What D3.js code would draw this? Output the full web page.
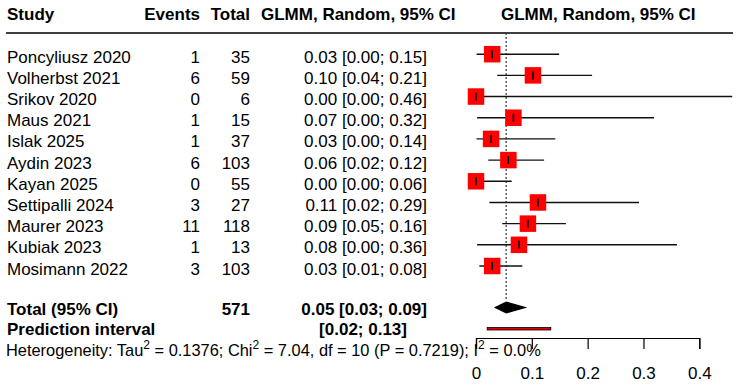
<!DOCTYPE html>
<html lang="en">
<head>
  <meta charset="UTF-8">
  <title>Forest plot</title>
  <style>
    body { margin: 0; background: #fff; }
    svg { display: block; font-family: 'Liberation Sans', Arial, sans-serif; }
    text { font-size: 17px; fill: #000; }
    .bold { font-weight: bold; }
  </style>
</head>
<body>
  <svg width="738" height="386"></svg>

  <script src="https://d3js.org/d3.v7.min.js"></script>
  <script>
  // study data
  const studies = ["Poncyliusz 2020", "Volherbst 2021", "Srikov 2020", "Maus 2021", "Islak 2025",
    "Aydin 2023", "Kayan 2025", "Settipalli 2024", "Maurer 2023", "Kubiak 2023", "Mosimann 2022"];
  const events = [1, 6, 0, 1, 1, 6, 0, 3, 11, 1, 3];
  const totals = [35, 59, 6, 15, 37, 103, 55, 27, 118, 13, 103];
  const est = [0.029, 0.102, 0.000, 0.067, 0.027, 0.058, 0.000, 0.111, 0.093, 0.077, 0.029];
  const lower = [0.001, 0.038, 0.000, 0.002, 0.001, 0.022, 0.000, 0.024, 0.047, 0.002, 0.006];
  const upper = [0.149, 0.208, 0.459, 0.319, 0.142, 0.122, 0.064, 0.292, 0.161, 0.360, 0.083];

  const pooled = { est: 0.054, lower: 0.032, upper: 0.092, total: 571 };
  const predInterval = [0.02, 0.134];
  const xTicks = [0, 0.1, 0.2, 0.3, 0.4];
  const hetero = { tau2: "0.1376", chi2: "7.04", df: 10, p: "0.7219", i2: "0.0%" };

  const svg = d3.select("svg");
  const x = d3.scaleLinear().domain([0, 0.4]).range([476, 699.3]);
  const y = d3.scaleLinear().domain([0, studies.length - 1]).range([54.2, 266]);
  const f2 = d3.format(".2f");
  const boxSize = 16.5;

  // header
  const head = svg.append("g").attr("class", "bold");
  head.append("text").attr("x", 7).attr("y", 20).attr("class", "bold").text("Study");
  head.append("text").attr("x", 200).attr("y", 20).attr("class", "bold").attr("text-anchor", "end").text("Events");
  head.append("text").attr("x", 250).attr("y", 20).attr("class", "bold").attr("text-anchor", "end").text("Total");
  head.append("text").attr("x", 261).attr("y", 20).attr("class", "bold").text("GLMM, Random, 95% CI");
  head.append("text").attr("x", 501).attr("y", 20).attr("class", "bold").text("GLMM, Random, 95% CI");
  svg.append("line").attr("x1", 6).attr("x2", 733).attr("y1", 33).attr("y2", 33)
    .attr("stroke", "#000").attr("stroke-width", 1.3);

  // reference line at pooled estimate
  svg.append("line").attr("x1", x(pooled.est)).attr("x2", x(pooled.est))
    .attr("y1", 33).attr("y2", 301)
    .attr("stroke", "#333").attr("stroke-dasharray", "2,2").attr("stroke-width", 1.2);

  // study rows
  const rows = svg.selectAll(".row").data(studies).enter().append("g").attr("class", "row");
  rows.append("text").attr("x", 7).attr("y", (d, i) => y(i) + 8.5).text(d => d);
  rows.append("text").attr("x", 200).attr("y", (d, i) => y(i) + 8.5).attr("text-anchor", "end").text((d, i) => events[i]);
  rows.append("text").attr("x", 250).attr("y", (d, i) => y(i) + 8.5).attr("text-anchor", "end").text((d, i) => totals[i]);
  rows.append("text").attr("x", 427).attr("y", (d, i) => y(i) + 8.5).attr("text-anchor", "end")
    .text((d, i) => `${f2(est[i])} [${f2(lower[i])}; ${f2(upper[i])}]`);

  rows.append("line")
    .attr("x1", (d, i) => x(lower[i])).attr("x2", (d, i) => Math.min(x(upper[i]), 733))
    .attr("y1", (d, i) => y(i)).attr("y2", (d, i) => y(i))
    .attr("stroke", "#111").attr("stroke-width", 1.4);
  rows.append("rect")
    .attr("x", (d, i) => x(est[i]) - boxSize / 2).attr("y", (d, i) => y(i) - boxSize / 2)
    .attr("width", boxSize).attr("height", boxSize).attr("fill", "#ff0000");
  rows.append("line")
    .attr("x1", (d, i) => x(est[i])).attr("x2", (d, i) => x(est[i]))
    .attr("y1", (d, i) => y(i) - 4).attr("y2", (d, i) => y(i) + 4)
    .attr("stroke", "#000").attr("stroke-width", 1.6);

  // pooled row
  const yTot = 307.5;
  svg.append("text").attr("class", "bold").attr("x", 7).attr("y", 315).text("Total (95% CI)");
  svg.append("text").attr("class", "bold").attr("x", 250).attr("y", 315).attr("text-anchor", "end").text(pooled.total);
  svg.append("text").attr("class", "bold").attr("x", 427).attr("y", 315).attr("text-anchor", "end")
    .text(`${f2(pooled.est)} [${f2(pooled.lower)}; ${f2(pooled.upper)}]`);
  svg.append("path")
    .attr("d", `M${x(pooled.lower)},${yTot} L${x(pooled.est)},${yTot - 6} L${x(pooled.upper)},${yTot} L${x(pooled.est)},${yTot + 6} Z`)
    .attr("fill", "#000");

  // prediction interval
  svg.append("text").attr("class", "bold").attr("x", 7).attr("y", 335).text("Prediction interval");
  svg.append("text").attr("class", "bold").attr("x", 407).attr("y", 335).attr("text-anchor", "end")
    .text(`[${f2(predInterval[0])}; ${f2(predInterval[1])}]`);
  svg.append("rect")
    .attr("x", x(predInterval[0])).attr("y", 327.5)
    .attr("width", x(predInterval[1]) - x(predInterval[0])).attr("height", 2.5)
    .attr("fill", "#e00000").attr("stroke", "#000").attr("stroke-width", 0.8);

  // axis
  const axis = svg.append("g").attr("transform", "translate(0,338)")
    .call(d3.axisBottom(x).tickValues(xTicks).tickSize(11).tickFormat(d => d === 0 ? "0" : d3.format(".1f")(d)));
  axis.select(".domain").attr("stroke", "#000").attr("stroke-width", 1.2);
  axis.selectAll(".tick line").attr("stroke", "#000").attr("stroke-width", 1.2);
  axis.selectAll(".tick text").attr("font-size", 17).attr("font-family", "'Liberation Sans', Arial, sans-serif")
    .attr("fill", "#000").attr("y", 40.5).attr("dy", 0);

  // heterogeneity line with superscripts
  const het = svg.append("text").attr("x", 6).attr("y", 356).style("font-size", "16.4px");
  het.append("tspan").text("Heterogeneity: Tau");
  het.append("tspan").attr("dy", -7).style("font-size", "12px").text("2");
  het.append("tspan").attr("dy", 7).text(` = ${hetero.tau2}; Chi`);
  het.append("tspan").attr("dy", -7).style("font-size", "12px").text("2");
  het.append("tspan").attr("dy", 7).text(` = ${hetero.chi2}, df = ${hetero.df} (P = ${hetero.p}); I`);
  het.append("tspan").attr("dy", -7).style("font-size", "12px").text("2");
  het.append("tspan").attr("dy", 7).text(` = ${hetero.i2}`);
  </script>
</body>
</html>
